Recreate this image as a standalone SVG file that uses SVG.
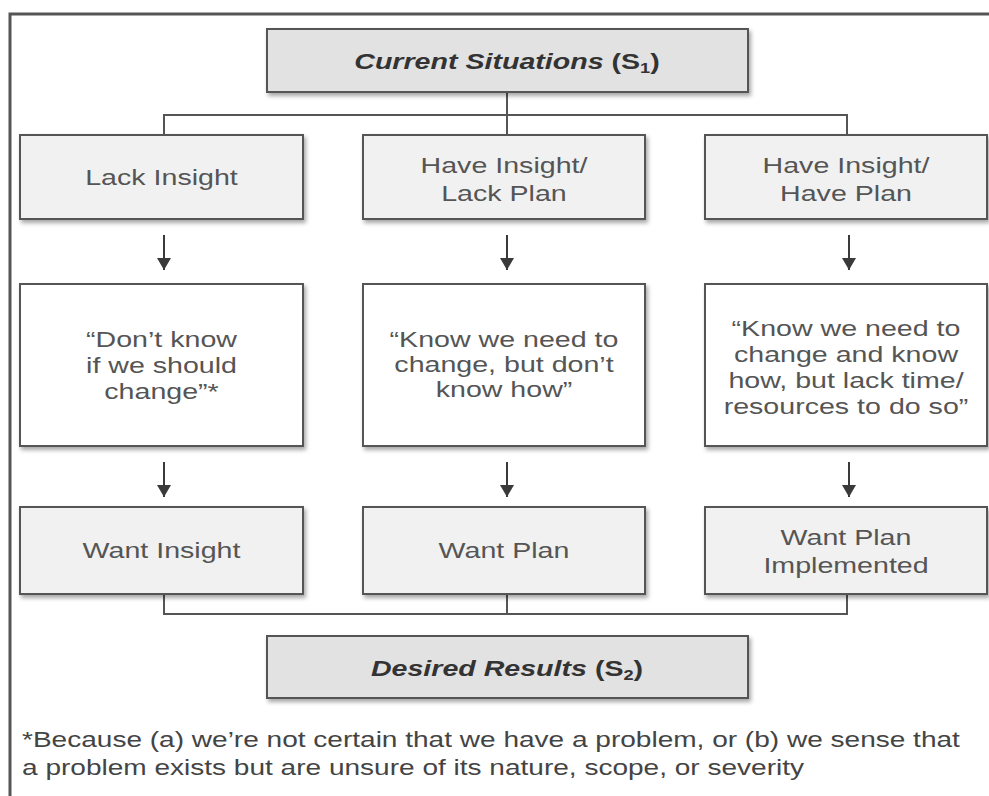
<svg xmlns="http://www.w3.org/2000/svg" width="989" height="796" viewBox="0 0 989 796">
  <defs>
    <filter id="shadow" x="-5%" y="-10%" width="115%" height="130%">
      <feDropShadow dx="2" dy="3" stdDeviation="2" flood-color="#000" flood-opacity="0.35"/>
    </filter>
    <marker id="arrow" viewBox="0 0 12 14" refX="12" refY="7" markerWidth="12" markerHeight="14" markerUnits="userSpaceOnUse" orient="auto">
      <path d="M0,0 L12,7 L0,14 Z" fill="#3a3a3a"/>
    </marker>
  </defs>
  <style>
    .frame { fill: none; stroke: #555; stroke-width: 3; }
    .box { stroke: #555; stroke-width: 2; filter: url(#shadow); }
    .title-box { fill: #e2e2e2; }
    .state-box { fill: #f1f1f1; }
    .quote-box { fill: #ffffff; }
    .link { fill: none; stroke: #555; stroke-width: 2; }
    .arrow { fill: none; stroke: #3a3a3a; stroke-width: 2; marker-end: url(#arrow); }
    text { font-family: "Liberation Sans", Arial, sans-serif; font-size: 22px; }
    .label { fill: #555; text-anchor: middle; }
    .title { fill: #333; font-weight: bold; font-style: italic; text-anchor: middle; }
    .upright { font-style: normal; }
    .note { fill: #444; }
  </style>

  <rect width="989" height="796" fill="#fff"/>

  <!-- outer frame (open to the right and bottom) -->
  <path class="frame" d="M10,796 V14 H989"/>

  <!-- connectors -->
  <g id="connectors">
    <path class="link" d="M507,92 V115 M164,135 V115 H847 V135 M507,115 V135"/>
    <path class="link" d="M164,594 V614 H847 V594 M507,594 V614"/>
    <line class="arrow" x1="164" y1="235" x2="164" y2="270"/>
    <line class="arrow" x1="507" y1="235" x2="507" y2="270"/>
    <line class="arrow" x1="849" y1="235" x2="849" y2="270"/>
    <line class="arrow" x1="164" y1="462" x2="164" y2="497"/>
    <line class="arrow" x1="507" y1="462" x2="507" y2="497"/>
    <line class="arrow" x1="849" y1="462" x2="849" y2="497"/>
  </g>

  <!-- top: current situations -->
  <g id="current-situations">
    <rect class="box title-box" x="267" y="29" width="481" height="63"/>
    <text class="title" transform="translate(507 69) scale(1.3 1)">Current Situations <tspan class="upright">(S</tspan><tspan class="upright" font-size="14" dy="4">1</tspan><tspan class="upright" dy="-4">)</tspan></text>
  </g>

  <!-- column 1 -->
  <g id="lack-insight">
    <rect class="box state-box" x="20" y="135" width="283" height="84"/>
    <text class="label" transform="translate(161.5 185) scale(1.3 1)">Lack Insight</text>
  </g>
  <g id="dont-know-if">
    <rect class="box quote-box" x="20" y="284" width="283" height="162"/>
    <text class="label" transform="translate(161.5 347) scale(1.3 1)"><tspan x="0" y="0">“Don’t know</tspan><tspan x="0" y="26">if we should</tspan><tspan x="0" y="52">change”*</tspan></text>
  </g>
  <g id="want-insight">
    <rect class="box state-box" x="20" y="507" width="283" height="87"/>
    <text class="label" transform="translate(161.5 558) scale(1.3 1)">Want Insight</text>
  </g>

  <!-- column 2 -->
  <g id="insight-lack-plan">
    <rect class="box state-box" x="363" y="135" width="282" height="84"/>
    <text class="label" transform="translate(504 173) scale(1.3 1)"><tspan x="0" y="0">Have Insight/</tspan><tspan x="0" y="28">Lack Plan</tspan></text>
  </g>
  <g id="dont-know-how">
    <rect class="box quote-box" x="363" y="284" width="282" height="162"/>
    <text class="label" transform="translate(504 347) scale(1.3 1)"><tspan x="0" y="0">“Know we need to</tspan><tspan x="0" y="25">change, but don’t</tspan><tspan x="0" y="50">know how”</tspan></text>
  </g>
  <g id="want-plan">
    <rect class="box state-box" x="363" y="507" width="282" height="87"/>
    <text class="label" transform="translate(504 558) scale(1.3 1)">Want Plan</text>
  </g>

  <!-- column 3 -->
  <g id="insight-have-plan">
    <rect class="box state-box" x="705" y="135" width="282" height="84"/>
    <text class="label" transform="translate(846 173) scale(1.3 1)"><tspan x="0" y="0">Have Insight/</tspan><tspan x="0" y="28">Have Plan</tspan></text>
  </g>
  <g id="lack-resources">
    <rect class="box quote-box" x="705" y="284" width="282" height="162"/>
    <text class="label" transform="translate(846 336) scale(1.3 1)"><tspan x="0" y="0">“Know we need to</tspan><tspan x="0" y="26">change and know</tspan><tspan x="0" y="52">how, but lack time/</tspan><tspan x="0" y="78">resources to do so”</tspan></text>
  </g>
  <g id="want-plan-implemented">
    <rect class="box state-box" x="705" y="507" width="282" height="87"/>
    <text class="label" transform="translate(846 545) scale(1.3 1)"><tspan x="0" y="0">Want Plan</tspan><tspan x="0" y="28">Implemented</tspan></text>
  </g>

  <!-- bottom: desired results -->
  <g id="desired-results">
    <rect class="box title-box" x="267" y="636" width="481" height="62"/>
    <text class="title" transform="translate(507 676) scale(1.3 1)">Desired Results <tspan class="upright">(S</tspan><tspan class="upright" font-size="14" dy="4">2</tspan><tspan class="upright" dy="-4">)</tspan></text>
  </g>

  <!-- footnote -->
  <g id="footnote">
    <text class="note" transform="translate(22 747) scale(1.275 1)"><tspan x="0" y="0">*Because (a) we’re not certain that we have a problem, or (b) we sense that</tspan><tspan x="0" y="28">a problem exists but are unsure of its nature, scope, or severity</tspan></text>
  </g>
</svg>
